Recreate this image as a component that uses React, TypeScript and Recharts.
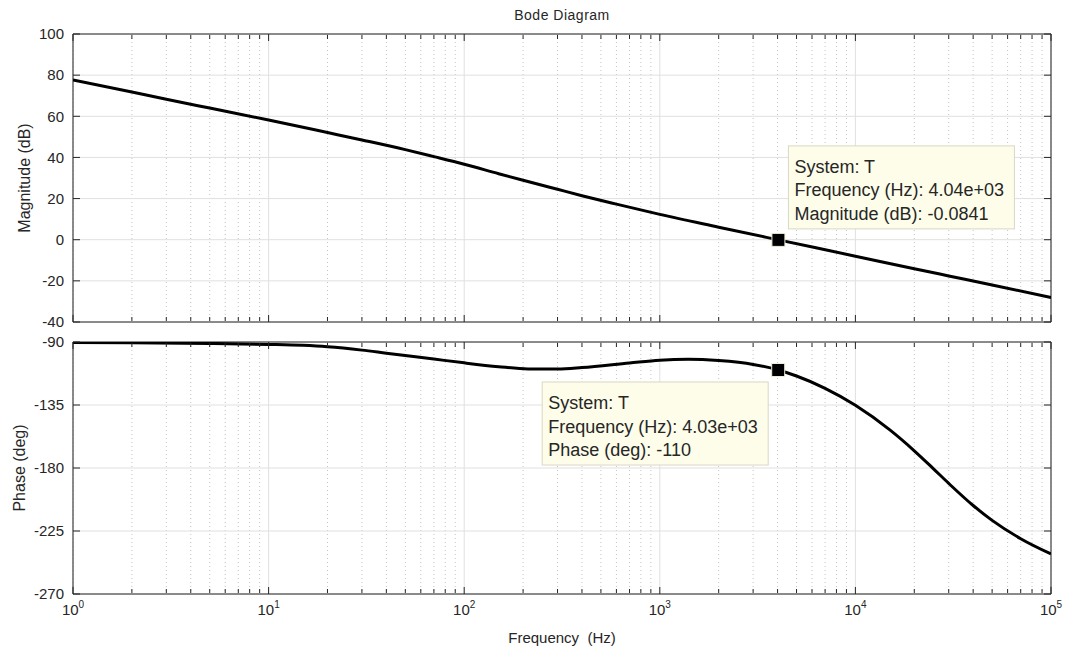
import React from 'react';
import { LineChart, Line, XAxis, YAxis, CartesianGrid, ReferenceDot, ReferenceArea } from 'recharts';

const FONT = '"Liberation Sans", Arial, Helvetica, sans-serif';
const INK = '#262626';

// frequency axis (Hz), log scale
const decades = [1, 10, 100, 1000, 10000, 100000];
const minorFreqs = decades.slice(0, -1).flatMap((d) => [2, 3, 4, 5, 6, 7, 8, 9].map((m) => m * d));

const magTicks = [-40, -20, 0, 20, 40, 60, 80, 100];
const phaseTicks = [-270, -225, -180, -135, -90];

// magnitude
const magFreq = [1, 2, 3, 5, 10, 20, 30, 50, 70, 100, 150, 200, 300, 400, 600, 1000, 2000, 4040, 10000, 20000, 30000, 50000, 100000];
const magDb = [77.6, 71.8, 68.3, 64.0, 58.2, 52.1, 48.5, 43.8, 40.4, 36.7, 32.1, 28.9, 24.5, 21.4, 17.3, 12.3, 6.1, -0.08, -8.0, -14.1, -17.6, -22.0, -28.1];

// phase
const phaseFreq = [1, 2, 5, 10, 15, 20, 30, 40, 70, 100, 150, 212, 300, 400, 700, 1000, 1400, 2000, 3000, 4030, 5000, 7000, 10000, 15000, 20000, 25000, 30000, 40000, 50000, 70000, 100000];
const phaseDeg = [-90.3, -90.5, -91, -91.7, -92.4, -93.4, -95.8, -98.0, -102.2, -104.9, -107.6, -109.2, -109.3, -108.3, -105.0, -103.0, -102.4, -103.3, -106.0, -110, -114.3, -123.1, -135.2, -152.8, -167.7, -180.4, -191.0, -206.8, -217.4, -230.5, -241.4];

// data tips
const magTipFreq = 4040;
const magTipDb = -0.0841;
const magTipText = ['System: T', 'Frequency (Hz): 4.04e+03', 'Magnitude (dB): -0.0841'];
const phaseTipFreq = 4030;
const phaseTipDeg = -110;
const phaseTipText = ['System: T', 'Frequency (Hz): 4.03e+03', 'Phase (deg): -110'];

const magData = magFreq.map((f, i) => ({ f, v: magDb[i] }));
const phaseData = phaseFreq.map((f, i) => ({ f, v: phaseDeg[i] }));

const noLabel = () => <g />;
const inkLine = { stroke: INK, strokeWidth: 1 };
const logX = { type: 'number' as const, scale: 'log' as const, domain: [1, 100000], allowDataOverflow: true };

const FreqTick = (props: any) => {
  const { x, y, payload } = props;
  const exp = Math.round(Math.log10(payload.value));
  return (
    <text x={x} y={y + 13} textAnchor="middle" fill={INK} fontSize={15} fontFamily={FONT}>
      10<tspan fontSize={10} dy={-7}>{exp}</tspan>
    </text>
  );
};

// marker + yellow data tip box, drawn around the dot position
const tipShape = (lines: string[], dx: number, dy: number) => (props: any) => {
  const { cx, cy } = props;
  const bx = cx + dx;
  const by = cy + dy;
  return (
    <g>
      <rect x={bx} y={by} width={226} height={83} fill="#fdfdea" stroke="#d8d8c4" />
      {lines.map((t, i) => (
        <text key={i} x={bx + 6} y={by + 27 + i * 23.5} fontSize={18} fill={INK} fontFamily={FONT}>
          {t}
        </text>
      ))}
      <rect x={cx - 6.5} y={cy - 6.5} width={13} height={13} fill="#000" stroke="#eeeed4" />
    </g>
  );
};

const yTitle = (text: string, x: number) => (props: any) => {
  const vb = props.viewBox || {};
  const cy = (vb.y ?? 0) + (vb.height ?? 0) / 2;
  return (
    <text x={x} y={cy} transform={`rotate(-90 ${x} ${cy})`} textAnchor="middle" dominantBaseline="central"
      fontSize={16} fill={INK} fontFamily={FONT}>
      {text}
    </text>
  );
};

const xTitle = (props: any) => {
  const vb = props.viewBox || {};
  return (
    <text x={(vb.x ?? 0) + (vb.width ?? 0) / 2} y={(vb.y ?? 0) + 49} textAnchor="middle" fontSize={15} fill={INK} fontFamily={FONT}>
      {'Frequency\u00a0 (Hz)'}
    </text>
  );
};

// box + inside tick marks (MATLAB style), via mirrored helper axes.
// each helper axis gets an invisible series so recharts builds its scale
const frameAxes = (yTicks: number[]) => {
  const yDomain = [yTicks[0], yTicks[yTicks.length - 1]];
  const ghost = (xId: string, yId: string) => (
    <Line key={`g-${xId}-${yId}`} xAxisId={xId} yAxisId={yId} dataKey="v" stroke="none" dot={false} activeDot={false}
      legendType="none" isAnimationActive={false} />
  );
  const xHelper = (id: string, orientation: 'top' | 'bottom', ticks: number[], size: number) => (
    <XAxis key={id} xAxisId={id} dataKey="f" orientation={orientation} mirror height={1} {...logX} ticks={ticks} interval={0}
      tick={noLabel} tickSize={size} tickLine={inkLine} axisLine={false} />
  );
  const yHelper = (id: string, orientation: 'left' | 'right') => (
    <YAxis key={id} yAxisId={id} orientation={orientation} mirror width={1} type="number" domain={yDomain} allowDataOverflow
      ticks={yTicks} interval={0} tick={noLabel} tickSize={7} tickLine={inkLine} axisLine={false} />
  );
  return [
    xHelper('bM', 'bottom', decades, 7),
    xHelper('bm', 'bottom', minorFreqs, 4),
    xHelper('tM', 'top', decades, 7),
    xHelper('tm', 'top', minorFreqs, 4),
    yHelper('l', 'left'),
    yHelper('r', 'right'),
    ghost('bM', 'l'),
    ghost('bm', 'r'),
    ghost('tM', 'l'),
    ghost('tm', 'r'),
  ];
};

const tickStyle = { fill: INK, fontSize: 15, fontFamily: FONT };

export default function App() {
  return (
    <div style={{ position: 'absolute', left: 0, top: 0, width: 1067, height: 650, background: '#fff', fontFamily: FONT }}>
      <div style={{ position: 'absolute', left: 73, top: 7, width: 978, textAlign: 'center', fontSize: 14, letterSpacing: 0.5, color: INK }}>
        Bode Diagram
      </div>

      <div style={{ position: 'absolute', left: 0, top: 0 }}>
        <LineChart width={1067} height={330} data={magData} margin={{ top: 34, right: 16, bottom: 8, left: 0 }}>
          <CartesianGrid xAxisId="bm" yAxisId="y" horizontal={false} stroke="#c4c4c4" strokeDasharray="1 3" />
          <CartesianGrid xAxisId="bM" yAxisId="y" stroke="#e0e0e0" />
          <XAxis xAxisId="x" dataKey="f" hide {...logX} ticks={decades} />
          <YAxis yAxisId="y" width={73} type="number" domain={[-40, 100]} allowDataOverflow ticks={magTicks} interval={0}
            tickLine={false} axisLine={false} tickMargin={3} tick={tickStyle}
            label={{ content: yTitle('Magnitude (dB)', 24) }} />
          {frameAxes(magTicks)}
          <Line xAxisId="x" yAxisId="y" dataKey="v" type="monotone" stroke="#000" strokeWidth={3} dot={false} isAnimationActive={false} />
          <ReferenceArea xAxisId="x" yAxisId="y" x1={1} x2={100000} y1={-40} y2={100} fill="none" stroke={INK} strokeWidth={1} />
          <ReferenceDot xAxisId="x" yAxisId="y" x={magTipFreq} y={magTipDb} r={6} shape={tipShape(magTipText, 10, -94)} />
        </LineChart>
      </div>

      <div style={{ position: 'absolute', left: 0, top: 330 }}>
        <LineChart width={1067} height={320} data={phaseData} margin={{ top: 12, right: 16, bottom: 4, left: 0 }}>
          <CartesianGrid xAxisId="bm" yAxisId="y" horizontal={false} stroke="#c4c4c4" strokeDasharray="1 3" />
          <CartesianGrid xAxisId="bM" yAxisId="y" stroke="#e0e0e0" />
          <XAxis xAxisId="x" dataKey="f" {...logX} ticks={decades} interval={0} height={52}
            tickLine={false} axisLine={false} tick={FreqTick} label={{ content: xTitle }} />
          <YAxis yAxisId="y" width={73} type="number" domain={[-270, -90]} allowDataOverflow ticks={phaseTicks} interval={0}
            tickLine={false} axisLine={false} tickMargin={3} tick={tickStyle}
            label={{ content: yTitle('Phase (deg)', 19) }} />
          {frameAxes(phaseTicks)}
          <Line xAxisId="x" yAxisId="y" dataKey="v" type="monotone" stroke="#000" strokeWidth={3} dot={false} isAnimationActive={false} />
          <ReferenceArea xAxisId="x" yAxisId="y" x1={1} x2={100000} y1={-270} y2={-90} fill="none" stroke={INK} strokeWidth={1} />
          <ReferenceDot xAxisId="x" yAxisId="y" x={phaseTipFreq} y={phaseTipDeg} r={6} shape={tipShape(phaseTipText, -236, 12)} />
        </LineChart>
      </div>
    </div>
  );
}
